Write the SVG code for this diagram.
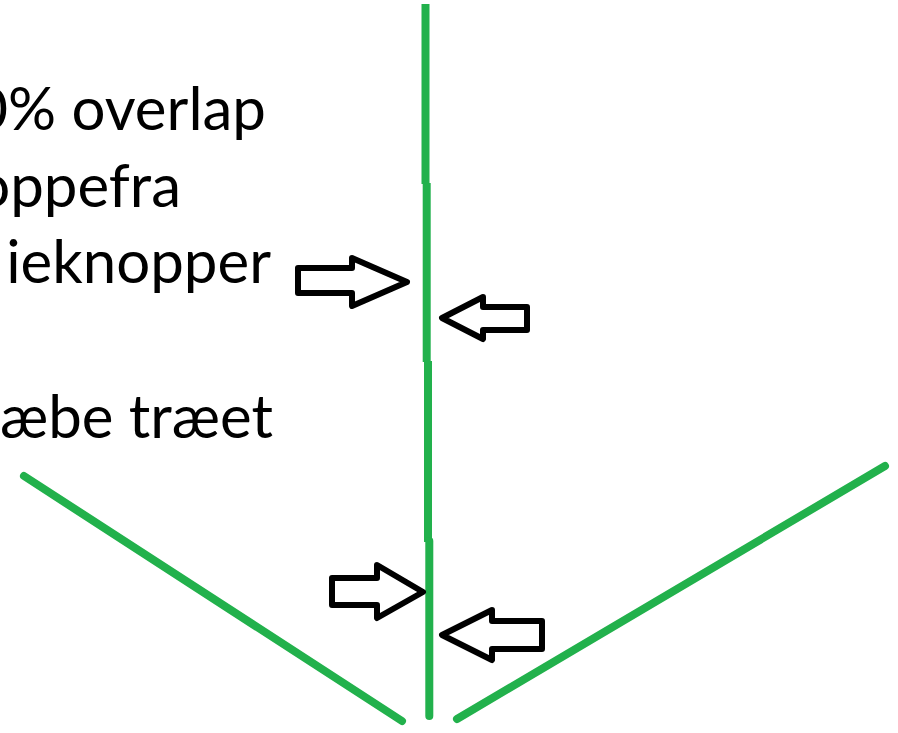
<svg xmlns="http://www.w3.org/2000/svg" width="898" height="733" viewBox="0 0 898 733">
<style>
.g{stroke:#22b14c;stroke-width:8;fill:none}
.gr{stroke:#22b14c;stroke-width:8;fill:none;stroke-linecap:round}
.a{fill:#fff;stroke:#000;stroke-width:6;stroke-linejoin:round}
.t{font-family:Lato,"Open Sans","Liberation Sans",sans-serif;font-size:60px;fill:#000;text-anchor:end}
</style>
<rect width="898" height="733" fill="#fff"/>
<g id="labels">
<text class="t" x="266" y="130">0% overlap</text>
<text class="t" x="181" y="207">oppefra</text>
<text class="t" x="271" y="283">ieknopper</text>
<text class="t" x="273" y="438">æbe træet</text>
</g>
<g id="connectors">
<line class="g" x1="425.5" y1="4" x2="425.5" y2="184"/>
<line class="g" x1="426.7" y1="183" x2="426.7" y2="362"/>
<line class="g" x1="428" y1="361" x2="428" y2="542"/>
<line class="gr" x1="429.3" y1="541" x2="429.3" y2="716"/>
<line class="gr" x1="24" y1="476" x2="402" y2="721"/>
<line class="gr" x1="457" y1="719" x2="885" y2="466"/>
</g>
<g id="arrow1"><polygon class="a" points="298,268 352,268 352,258 407,282 352,306 352,293 298,293"/></g>
<g id="arrow2"><polygon class="a" points="527,307 483,307 483,297 442,318 483,339 483,330 527,330"/></g>
<g id="arrow3"><polygon class="a" points="332,578 377,578 377,565 423,592 377,618 377,605 332,605"/></g>
<g id="arrow4"><polygon class="a" points="542,621 492,621 492,610 442,635 492,660 492,649 542,649"/></g>
</svg>
